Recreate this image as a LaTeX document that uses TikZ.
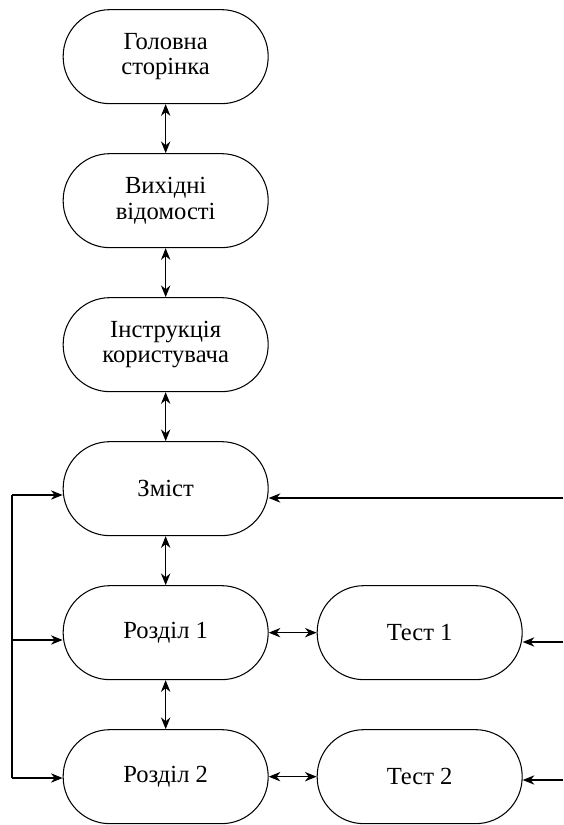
\documentclass[tikz,border=0pt]{standalone}
\usepackage{fontspec}
\setmainfont{Liberation Serif}
\usepackage{tkz-euclide}
\usetikzlibrary{arrows.meta}
\tikzset{
  blok/.style={draw, line width=0.9pt, rounded corners=1.4cm, minimum width=6.15cm,
    minimum height=2.82cm, align=center, inner sep=2pt,
    font=\fontsize{21}{21.5}\selectfont},
  zv/.style={line width=0.9pt, >={Stealth[length=10pt,width=8pt]}}
}
\begin{document}
\begin{tikzpicture}
                \useasboundingbox (0,0) rectangle (16.89,-24.75);
                \tkzDefPoints{4.97/-1.70/a,4.97/-6.02/b,4.97/-10.34/c,4.97/-14.66/d,4.97/-18.98/e,4.97/-23.30/f}
                \tkzDefPoints{12.59/-18.98/g,12.59/-23.30/h}
                \tkzDefPoints{0.36/-14.85/L,0.36/-19.20/M,0.36/-23.34/N}
                \tkzDefPoints{16.89/-14.94/P,16.89/-19.26/Q,16.89/-23.40/S}
                \node[blok] (A) at (a) {Головна\\сторінка};
                \node[blok] (B) at (b) {Вихідні\\відомості};
                \node[blok] (C) at (c) {Інструкція\\користувача};
                \node[blok] (D) at (d) {Зміст};
                \node[blok] (E) at (e) {Розділ 1};
                \node[blok] (F) at (f) {Розділ 2};
                \node[blok] (G) at (g) {Тест 1};
                \node[blok] (H) at (h) {Тест 2};
                \draw[zv,<->] (A.south) -- (B.north);
                \draw[zv,<->] (B.south) -- (C.north);
                \draw[zv,<->] (C.south) -- (D.north);
                \draw[zv,<->] (D.south) -- (E.north);
                \draw[zv,<->] (E.south) -- (F.north);
                \draw[zv,<->] (E.east) -- (G.west);
                \draw[zv,<->] (F.east) -- (H.west);
                \draw[zv] (L) -- (N);
                \draw[zv,->] (L) -- (L -| D.west);
                \draw[zv,->] (M) -- (M -| E.west);
                \draw[zv,->] (N) -- (N -| F.west);
                \draw[zv,->] (P) -- (P -| D.east);
                \draw[zv,->] (Q) -- (Q -| G.east);
                \draw[zv,->] (S) -- (S -| H.east);
            \end{tikzpicture}
\end{document}
